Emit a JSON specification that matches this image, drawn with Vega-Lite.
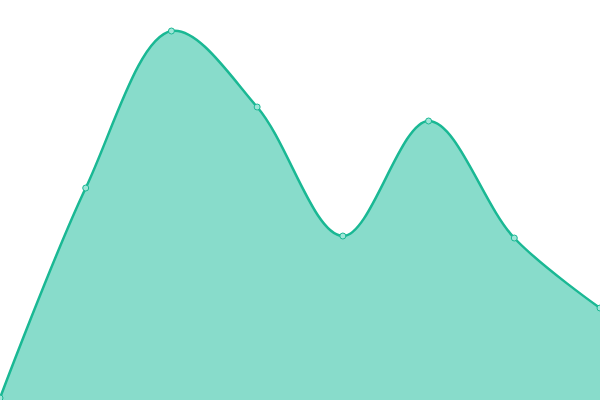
{
  "$schema": "https://vega.github.io/schema/vega-lite/v6.json",
  "width": 600,
  "height": 400,
  "autosize": {"type": "none"},
  "padding": 0,
  "background": "white",
  "config": {"view": {"stroke": null}},
  "data": {
    "values": [
      {"i": 0, "v": 2},
      {"i": 1, "v": 212},
      {"i": 2, "v": 369},
      {"i": 3, "v": 293},
      {"i": 4, "v": 164},
      {"i": 5, "v": 279},
      {"i": 6, "v": 162},
      {"i": 7, "v": 92}
    ]
  },
  "encoding": {
    "x": {"field": "i", "type": "quantitative", "axis": null, "scale": {"domain": [0, 7], "nice": false, "zero": false}},
    "y": {"field": "v", "type": "quantitative", "axis": null, "scale": {"domain": [0, 400], "nice": false}}
  },
  "layer": [
    {"mark": {"type": "area", "interpolate": "catmull-rom", "color": "#1abc9c", "fillOpacity": 0.52}},
    {"mark": {"type": "line", "interpolate": "catmull-rom", "color": "#1ab894", "strokeWidth": 2.5}},
    {"mark": {"type": "point", "filled": true, "fill": "#9fe6d8", "stroke": "#1ab894", "strokeWidth": 1, "size": 36, "opacity": 1}}
  ]
}
